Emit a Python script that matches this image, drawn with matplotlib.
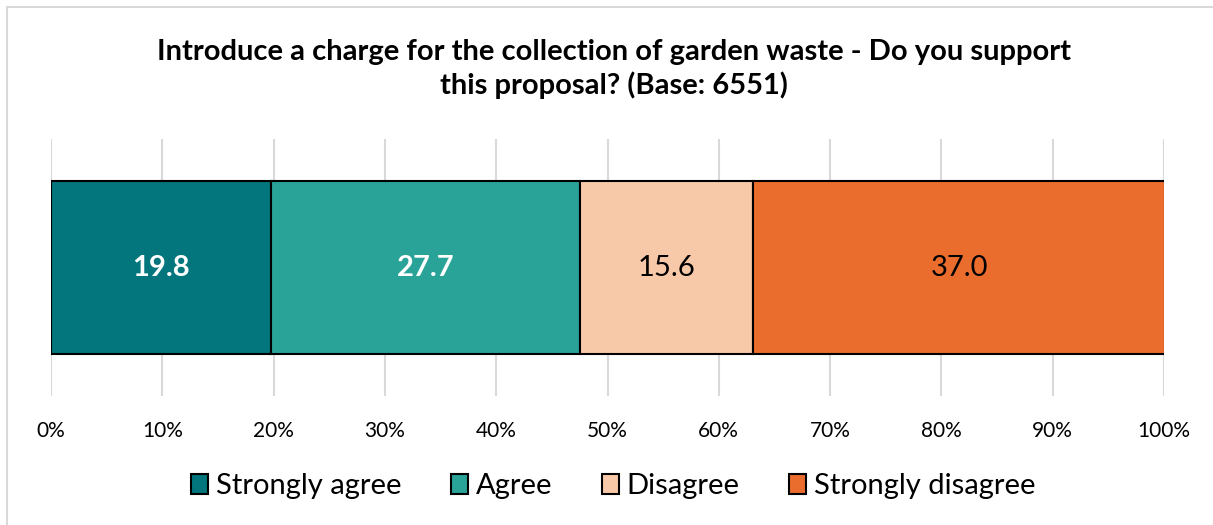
import matplotlib.pyplot as plt
from matplotlib.patches import Rectangle
from matplotlib.ticker import PercentFormatter

plt.rcParams['font.family'] = ['Lato', 'DejaVu Sans']

categories = ["Strongly agree", "Agree", "Disagree", "Strongly disagree"]
values = [19.8, 27.7, 15.6, 37.0]
colours = ["#02767C", "#29A398", "#F8C9A9", "#EB6D2D"]
label_colours = ["white", "white", "black", "black"]
label_weights = ["bold", "bold", "normal", "normal"]
ticks = [0, 10, 20, 30, 40, 50, 60, 70, 80, 90, 100]

fig = plt.figure(figsize=(12.13, 5.25), dpi=100)
ax = fig.add_axes([51 / 1213, 1 - 396 / 525, 1113 / 1213, 257 / 525])

# light chart border (only top/left visible in the reference)
fig.patches.append(Rectangle((7 / 1213, -0.05), 1.2, 1 - 7 / 525 + 0.05,
                             transform=fig.transFigure, fill=False,
                             edgecolor="#D9D9D9", linewidth=1.5))

left = 0
for cat, val, col, lc, lw in zip(categories, values, colours, label_colours, label_weights):
    ax.barh(0, val, left=left, height=0.67, color=col, edgecolor="black",
            linewidth=1.5, label=cat, zorder=3)
    ax.text(left + val / 2, 0, f"{val:.1f}", ha="center", va="center",
            color=lc, fontsize=21, fontweight=lw, zorder=4)
    left += val

ax.set_xlim(0, 100)
ax.set_ylim(-0.5, 0.5)
ax.set_xticks(ticks)
ax.xaxis.set_major_formatter(PercentFormatter(decimals=0))
ax.set_yticks([])
ax.grid(axis="x", color="#D9D9D9", linewidth=1.5, zorder=0)
for s in ax.spines.values():
    s.set_visible(False)
ax.tick_params(axis="x", length=0, labelsize=15, pad=18)

fig.text(614 / 1213, 1 - 69 / 525,
         "Introduce a charge for the collection of garden waste - Do you support\nthis proposal? (Base: 6551)",
         ha="center", va="center", fontsize=21, fontweight="bold", linespacing=1.3)

fig.legend(loc="center", bbox_to_anchor=(613 / 1213, 1 - 486 / 525), ncol=4,
           frameon=False, fontsize=21, handlelength=0.6, handleheight=0.7,
           handletextpad=0.25, columnspacing=1.7)

fig.savefig("out.png", dpi=100)
